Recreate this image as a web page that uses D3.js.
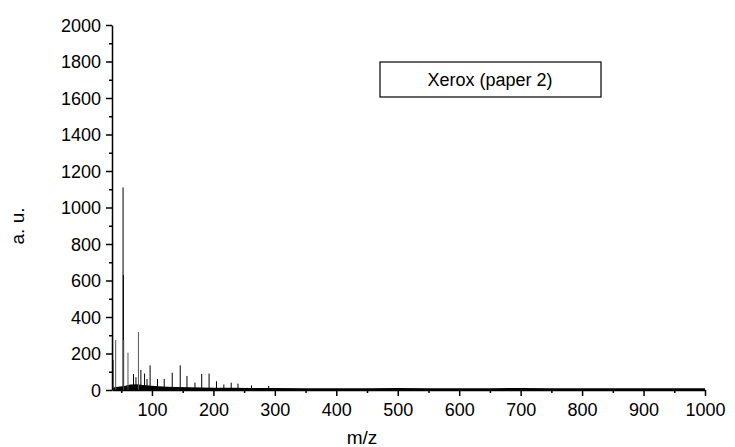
<!DOCTYPE html>
<html><head><meta charset="utf-8">
<script src="https://cdn.jsdelivr.net/npm/d3@7"></script>
<style>body{margin:0;background:#fff}text{font-family:Arial,"Liberation Sans",sans-serif}</style>
</head><body><svg></svg>
<script>
// peak positions (m/z) and intensities
var peakMz = [36, 37, 41, 53, 53.5, 54, 61, 70, 74, 78, 82, 88, 92, 97, 109, 120, 133, 146, 157, 170, 181, 193, 205, 217, 229, 240, 262, 290];
var peakVal = [810, 164, 274, 1110, 630, 274, 204, 88, 70, 318, 110, 90, 60, 135, 60, 60, 95, 135, 77, 41, 88, 90, 48, 30, 40, 35, 25, 22];
// noise envelope of the baseline
var baseMz = [36, 45, 55, 65, 75, 85, 95, 110, 125, 140, 160, 180, 200, 230, 260, 300, 350, 400, 450, 500, 550, 600, 650, 700, 750, 800, 850, 900, 950, 1000];
var baseVal = [14, 18, 22, 30, 32, 28, 24, 20, 18, 17, 15, 14, 13, 12, 11, 11, 10, 10, 10, 11, 10, 10, 10, 11, 10, 10, 10, 10, 10, 10];
var xTicks = [100, 200, 300, 400, 500, 600, 700, 800, 900, 1000];
var yTicks = [0, 200, 400, 600, 800, 1000, 1200, 1400, 1600, 1800, 2000];

var svg = d3.select("svg").attr("width", 735).attr("height", 447);
var x = d3.scaleLinear().domain([35, 1000]).range([112, 705]);
var y = d3.scaleLinear().domain([0, 2000]).range([390, 25]);

svg.append("path")
  .datum(baseMz.map(function(m, i){ return [m, baseVal[i]]; }))
  .attr("d", d3.area().x(function(d){ return x(d[0]); }).y0(y(0)).y1(function(d){ return y(d[1]); }))
  .attr("fill", "#000");

svg.selectAll(".pk").data(peakMz).enter().append("line")
  .attr("x1", function(d){ return x(d); }).attr("x2", function(d){ return x(d); })
  .attr("y1", y(0)).attr("y2", function(d, i){ return y(peakVal[i]); })
  .attr("stroke", function(d, i){ return peakVal[i] > 150 && peakVal[i] < 700 && i != 4 ? "#555" : "#000"; })
  .attr("stroke-width", 1);

var fmt = d3.format("d");
var xa = svg.append("g").attr("transform", "translate(0,390)")
  .call(d3.axisBottom(x).tickValues(xTicks).tickFormat(fmt).tickSize(6).tickSizeOuter(0));
svg.append("g").attr("transform", "translate(0,390)")
  .call(d3.axisBottom(x).tickValues(d3.range(50, 1000, 100)).tickSize(3).tickFormat(""))
  .select(".domain").remove();
var ya = svg.append("g").attr("transform", "translate(112,0)")
  .call(d3.axisLeft(y).tickValues(yTicks).tickFormat(fmt).tickSize(6).tickSizeOuter(0));
svg.append("g").attr("transform", "translate(112,0)")
  .call(d3.axisLeft(y).tickValues(d3.range(100, 2000, 200)).tickSize(3).tickFormat(""))
  .select(".domain").remove();
svg.selectAll(".domain, .tick line").attr("stroke", "#000").attr("stroke-width", 1.5);
xa.selectAll("text").attr("font-size", 18).attr("dy", "0.95em").attr("fill", "#000");
ya.selectAll("text").attr("font-size", 18).attr("dx", "-2").attr("dy", "0.35em").attr("fill", "#000");

svg.append("text").attr("x", 362).attr("y", 444).attr("text-anchor", "middle")
  .attr("font-size", 19).text("m/z");
svg.append("text").attr("transform", "translate(24,226) rotate(-90)").attr("text-anchor", "middle")
  .attr("font-size", 19).text("a. u.");

svg.append("rect").attr("x", 380).attr("y", 62).attr("width", 221).attr("height", 35)
  .attr("fill", "none").attr("stroke", "#000").attr("stroke-width", 1.2);
svg.append("text").attr("x", 490).attr("y", 86).attr("text-anchor", "middle")
  .attr("font-size", 18).text("Xerox (paper 2)");
</script></body></html>
